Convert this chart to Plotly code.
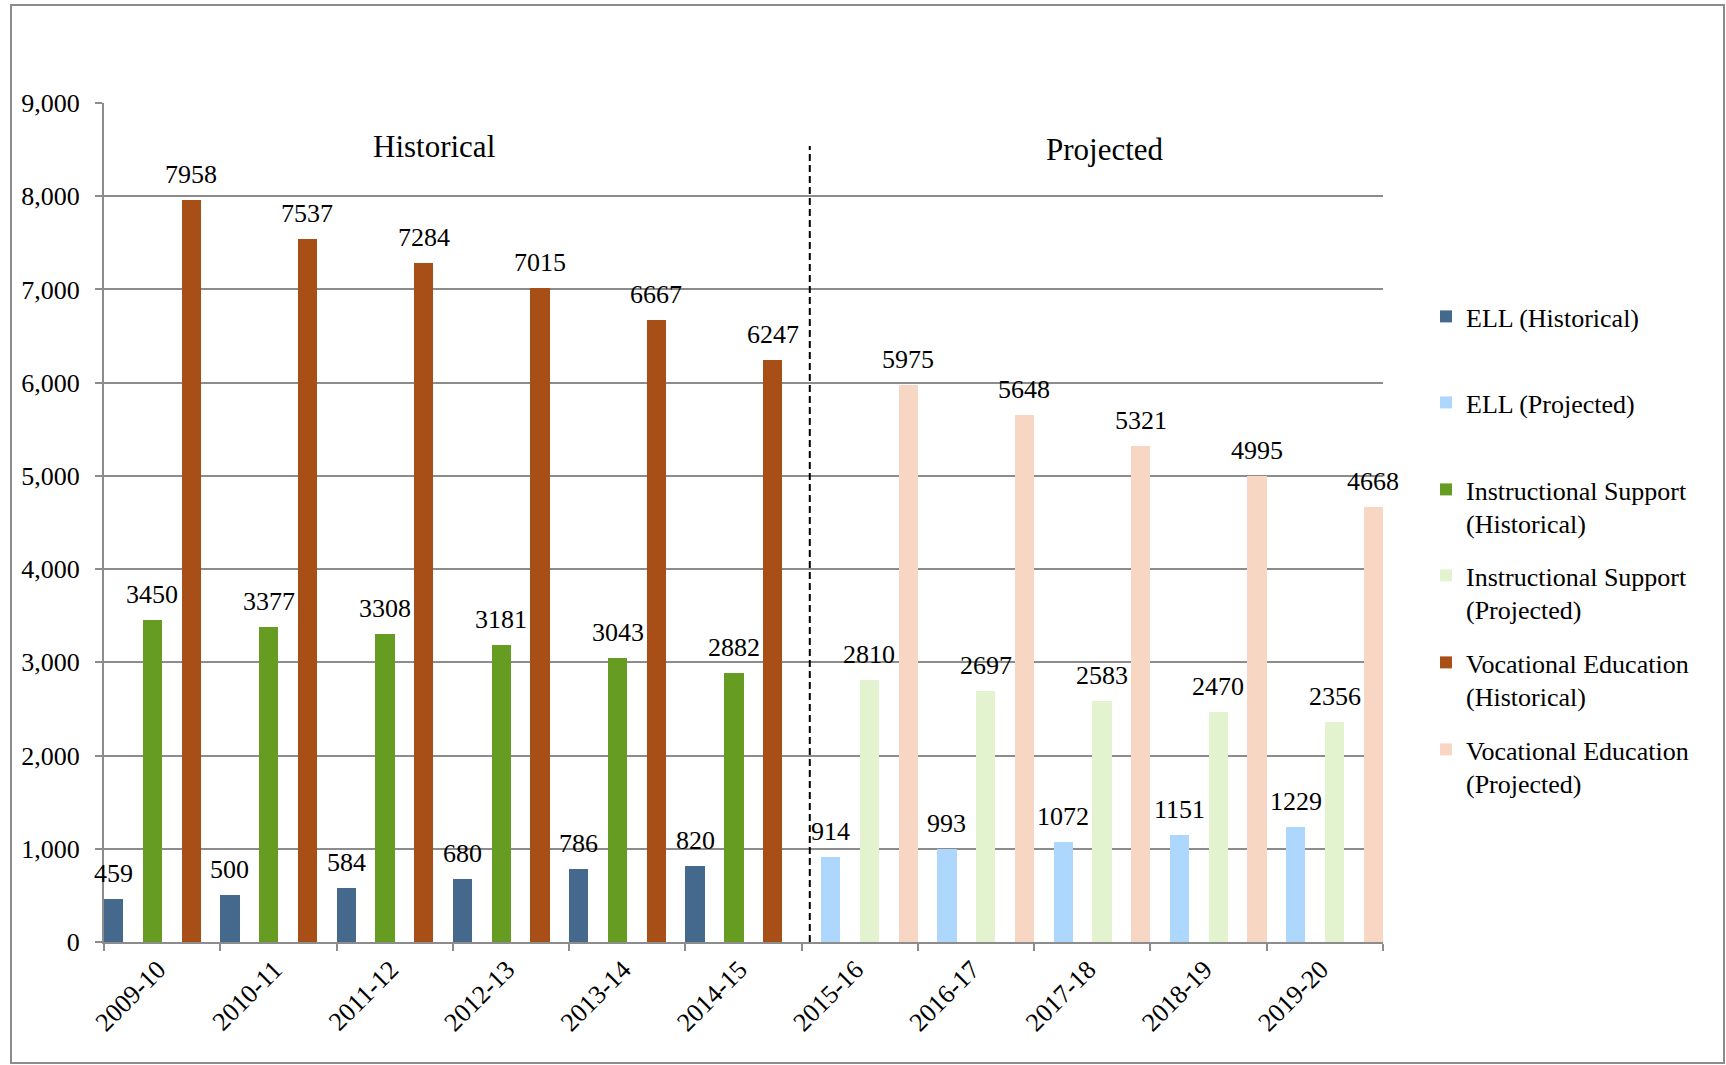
import plotly.graph_objects as go

# ---------------- data ----------------
categories = ["2009-10", "2010-11", "2011-12", "2012-13", "2013-14", "2014-15",
              "2015-16", "2016-17", "2017-18", "2018-19", "2019-20"]
hist_years = categories[:6]
proj_years = categories[6:]

ell_hist = [459, 500, 584, 680, 786, 820]
ell_proj = [914, 993, 1072, 1151, 1229]
is_hist = [3450, 3377, 3308, 3181, 3043, 2882]
is_proj = [2810, 2697, 2583, 2470, 2356]
ve_hist = [7958, 7537, 7284, 7015, 6667, 6247]
ve_proj = [5975, 5648, 5321, 4995, 4668]

y_ticks = [0, 1000, 2000, 3000, 4000, 5000, 6000, 7000, 8000, 9000]

series = [
    ("ELL (Historical)", hist_years, ell_hist, "#44698c"),
    ("ELL (Projected)", proj_years, ell_proj, "#add7fd"),
    ("Instructional Support<br>(Historical)", hist_years, is_hist, "#669c22"),
    ("Instructional Support<br>(Projected)", proj_years, is_proj, "#e3f3cf"),
    ("Vocational Education<br>(Historical)", hist_years, ve_hist, "#a84e17"),
    ("Vocational Education<br>(Projected)", proj_years, ve_proj, "#f7d7c4"),
]

# ---------------- layout geometry (pixels) ----------------
W, H = 1726, 1065
L, R, T, B = 104, 343, 103, 123
PW, PH = W - L - R, H - T - B
N_SLOTS = len(series)
BAR_PX = PW / len(categories) / N_SLOTS          # width of one bar slot in px
LEGEND_ROWS = [318, 404, 491, 577, 664, 751]     # first-line centre of each legend entry

def px_x(px):
    return (px - L) / PW

def px_y(py):
    return (H - B - py) / PH

FONT = "Liberation Serif, Times New Roman, serif"
GRID = "#8c8c8c"

fig = go.Figure()
annotations = []
legends = {}
for i, (name, xs, ys, col) in enumerate(series):
    lg = "legend" if i == 0 else f"legend{i + 1}"
    fig.add_trace(go.Bar(
        name=name, x=xs, y=ys,
        marker=dict(color=col, line=dict(width=0)),
        legend=lg,
    ))
    legends[lg] = dict(
        x=px_x(1426), y=px_y(LEGEND_ROWS[i] - 25), xanchor="left", yanchor="top",
        font=dict(family=FONT, size=26, color="black"),
        valign="top", bgcolor="rgba(0,0,0,0)",
    )
    # value labels above each bar
    for xv, yv in zip(xs, ys):
        annotations.append(dict(
            text=str(yv), x=xv, y=yv, xref="x", yref="y",
            xanchor="center", yanchor="bottom",
            xshift=(i - (N_SLOTS - 1) / 2) * BAR_PX, yshift=9,
            showarrow=False, font=dict(family=FONT, size=26, color="black"),
        ))

annotations += [
    dict(text="Historical", x=2.34, y=8530, xref="x", yref="y",
         showarrow=False, font=dict(family=FONT, size=31, color="black")),
    dict(text="Projected", x=8.11, y=8500, xref="x", yref="y",
         showarrow=False, font=dict(family=FONT, size=31, color="black")),
]

fig.update_layout(
    width=W, height=H,
    margin=dict(l=L, r=R, t=T, b=B, autoexpand=False),
    paper_bgcolor="white", plot_bgcolor="white",
    barmode="group", bargap=0, bargroupgap=0,
    font=dict(family=FONT, size=26, color="black"),
    showlegend=True,
    xaxis=dict(
        type="category", categoryorder="array", categoryarray=categories,
        range=[-0.5, len(categories) - 0.5],
        tickangle=-45, tickson="boundaries",
        ticks="outside", ticklen=7, tickwidth=2, tickcolor=GRID,
        showline=True, linecolor=GRID, linewidth=2,
        showgrid=False, ticklabelstandoff=0, ticklabelshift=-4,
        tickfont=dict(family=FONT, size=26, color="black"),
    ),
    yaxis=dict(
        range=[0, 9000], tickvals=y_ticks, tickformat=",",
        ticks="outside", ticklen=7, tickwidth=2, tickcolor=GRID,
        showline=True, linecolor=GRID, linewidth=2,
        showgrid=True, gridcolor=GRID, gridwidth=2, zeroline=False,
        ticklabelstandoff=10,
        tickfont=dict(family=FONT, size=26, color="black"),
    ),
    shapes=[
        dict(type="rect", xref="paper", yref="paper",
             x0=px_x(11), x1=px_x(1724), y0=px_y(1063), y1=px_y(5),
             line=dict(color="#8c8c8c", width=2), layer="below"),
        dict(type="line", xref="x", yref="y",
             x0=5.57, x1=5.57, y0=0, y1=8540,
             line=dict(color="black", width=2, dash="7px,4px")),
    ],
    annotations=annotations,
    **legends,
)

fig.write_html("out.html", config={"displayModeBar": False},
               post_script="document.body.style.margin='0px';")
